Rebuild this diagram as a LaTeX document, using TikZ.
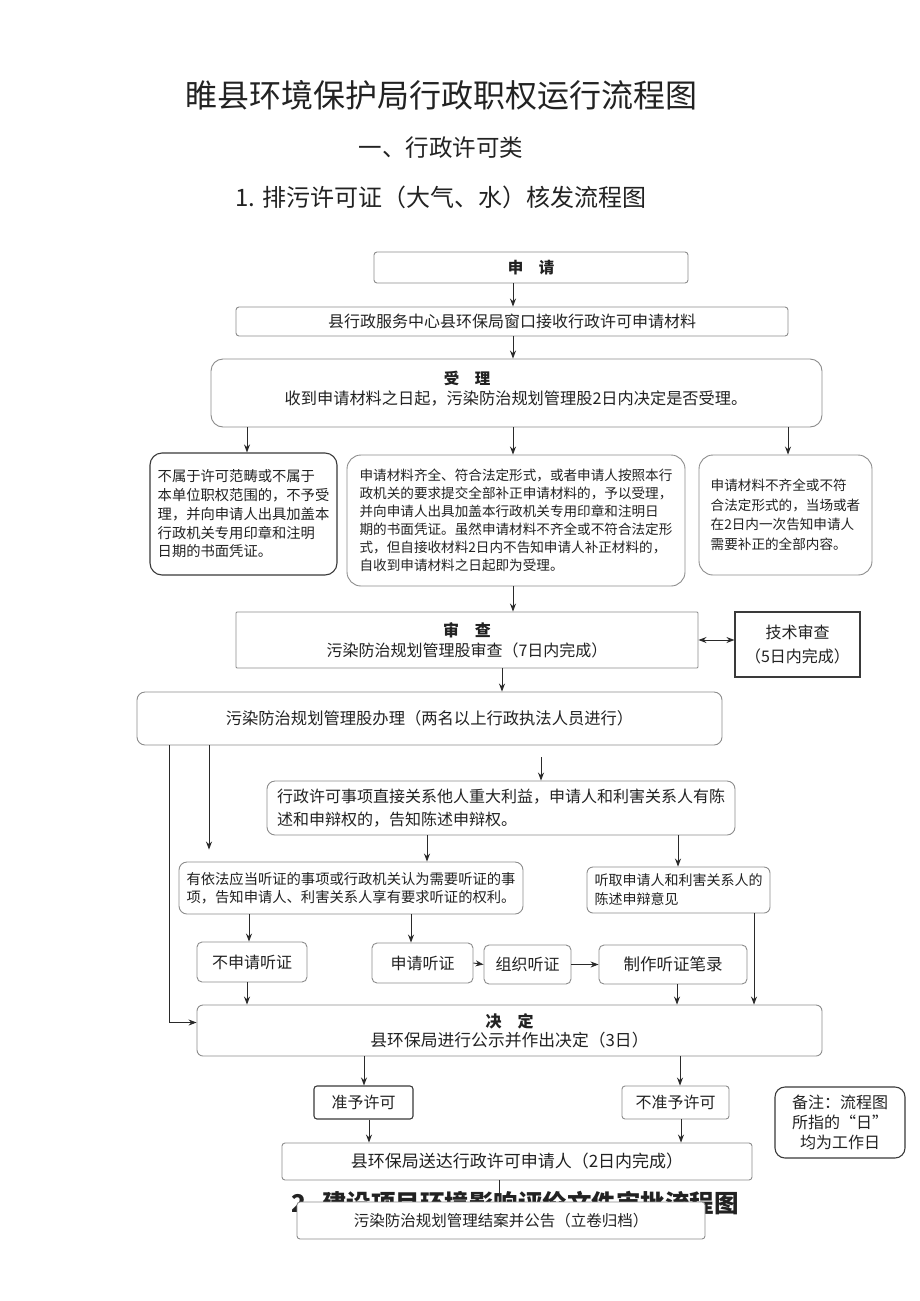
\documentclass[tikz,border=0pt]{standalone}
\usepackage{fontspec}
\setmainfont{Noto Sans CJK SC}
\usetikzlibrary{arrows.meta,calc}
\newcommand\myfs[2]{\fontsize{#1}{#2}\selectfont}
\definecolor{boxgrey}{HTML}{8C8C8C}
\definecolor{boxdark}{HTML}{3A3A3A}
\definecolor{linecol}{HTML}{2A2A2A}
\definecolor{txt}{HTML}{222222}
\tikzset{
  box/.style={draw=boxgrey, line width=0.9pt, rounded corners=#1, inner sep=0pt, align=center, text=txt, font=\myfs{15.5}{20}},
  box/.default=3pt,
  dbox/.style={box=#1, draw=boxdark, line width=1.1pt},
  dbox/.default=3pt,
  arr/.style={-{Stealth[length=8pt,width=6pt]}, line width=0.9pt, draw=linecol},
  ln/.style={line width=0.9pt, draw=linecol},
  head/.style={inner sep=0pt, text=txt}
}
\begin{document}
\begin{tikzpicture}[x=1pt,y=-1pt]
\useasboundingbox (0,0) rectangle (920,1301);
\fill[white] (0,0) rectangle (920,1301);

% titles
\node[head, font=\myfs{32}{36}] (title) at (441.5,95) {睢县环境保护局行政职权运行流程图};
\node[head, font=\myfs{23.5}{26}] (sub1) at (441,148) {一、行政许可类};
\node[head, font=\myfs{24}{26}] (sub2) at (441,197) {1. 排污许可证（大气、水）核发流程图};

% coordinates for connector x positions
\coordinate (c169) at (169,0);
\coordinate (c209) at (209,0);
\coordinate (c249) at (249,0);
\coordinate (c247) at (247,0);
\coordinate (c411) at (411,0);
\coordinate (c427) at (427,0);
\coordinate (c499) at (499,0);
\coordinate (c502) at (502,0);
\coordinate (c513) at (513,0);
\coordinate (c678) at (678,0);
\coordinate (c677) at (677,0);
\coordinate (c754) at (754,0);
\coordinate (c788) at (788,0);
\coordinate (c369) at (369,0);
\coordinate (c681) at (681,0);
\coordinate (c364) at (364,0);
\coordinate (c680) at (680,0);
\coordinate (y1022) at (0,1022.5);
\coordinate (start541) at (541,757);

% nodes
\node[box, minimum width=314, minimum height=31] (sq) at (531,267.5) {\bfseries 申\quad 请};
\node[box, minimum width=552, minimum height=29, font=\myfs{16}{20}] (js) at (512,321.5) {县行政服务中心县环保局窗口接收行政许可申请材料};
\node[box=12pt, minimum width=611, minimum height=68] (sl) at (516.5,393) {};
\node[head, font=\myfs{15.5}{20}\bfseries] (slT) at (467,378) {受\quad 理};
\node[head, font=\myfs{16.2}{20}] (slL) at (516,398) {收到申请材料之日起，污染防治规划管理股2日内决定是否受理。};

\node[dbox=12pt, minimum width=187, minimum height=122, align=left, font=\myfs{14.3}{18.75}] (lb) at (243.5,514)
 {不属于许可范畴或不属于\\本单位职权范围的，不予受\\理，并向申请人出具加盖本\\行政机关专用印章和注明\\日期的书面凭证。};
\node[box=14pt, minimum width=338, minimum height=131, align=left, font=\myfs{13.6}{18}] (mb) at (516,520.5)
 {申请材料齐全、符合法定形式，或者申请人按照本行\\政机关的要求提交全部补正申请材料的，予以受理，\\并向申请人出具加盖本行政机关专用印章和注明日\\期的书面凭证。虽然申请材料不齐全或不符合法定形\\式，但自接收材料2日内不告知申请人补正材料的，\\自收到申请材料之日起即为受理。};
\node[box=14pt, minimum width=173, minimum height=120, align=left, font=\myfs{13.6}{19.5}] (rb) at (785.5,515)
 {申请材料不齐全或不符\\合法定形式的，当场或者\\在2日内一次告知申请人\\需要补正的全部内容。};

\node[box=1pt, minimum width=462, minimum height=56, font=\myfs{16}{20}] (sc) at (467,640)
 {\bfseries 审\quad 查\\污染防治规划管理股审查（7日内完成）};
\node[dbox=0pt, minimum width=125, minimum height=65, font=\myfs{16}{24}] (jsc) at (797.5,644.5)
 {技术审查\\（5日内完成）};

\node[box=8pt, minimum width=585, minimum height=53, font=\myfs{16.3}{20}] (bl) at (429.5,718.5)
 {污染防治规划管理股办理（两名以上行政执法人员进行）};

\node[box=8pt, minimum width=468, minimum height=54, align=left, font=\myfs{16}{23}] (xz) at (501,808)
 {行政许可事项直接关系他人重大利益，申请人和利害关系人有陈\\述和申辩权的，告知陈述申辩权。};

\node[box=8pt, minimum width=344, minimum height=52, align=left, font=\myfs{14.3}{18.5}] (yf) at (351,888)
 {有依法应当听证的事项或行政机关认为需要听证的事\\项，告知申请人、利害关系人享有要求听证的权利。};
\node[box=6pt, minimum width=183, minimum height=46, align=left, font=\myfs{14}{19}] (tq) at (678.5,890)
 {听取申请人和利害关系人的\\陈述申辩意见};

\node[box=5pt, minimum width=110, minimum height=40, font=\myfs{16}{20}] (bsq) at (252,962) {不申请听证};
\node[box=5pt, minimum width=101, minimum height=40, font=\myfs{16}{20}] (sqtz) at (422.5,963) {申请听证};
\node[box=5pt, minimum width=87, minimum height=39, font=\myfs{16}{20}] (zztz) at (527.5,964.5) {组织听证};
\node[box=5pt, minimum width=148, minimum height=39, font=\myfs{16.5}{20}] (zzbl) at (673,964.5) {制作听证笔录};

\node[box=6pt, minimum width=625, minimum height=51, font=\myfs{16.8}{19}] (jd) at (509.5,1030.5)
 {{\myfs{16}{19}\bfseries 决\quad 定}\\县环保局进行公示并作出决定（3日）};

\node[dbox=3pt, minimum width=99, minimum height=33, font=\myfs{16}{20}] (zy) at (363.5,1102.5) {准予许可};
\node[box=3pt, minimum width=107, minimum height=33, font=\myfs{16}{20}] (bz) at (675.5,1102.5) {不准予许可};
\node[dbox=10pt, minimum width=130, minimum height=71, font=\myfs{16}{20}] (bzh) at (840,1122.5)
 {备注：流程图\\所指的“日”\\均为工作日};

\node[box=3pt, minimum width=470, minimum height=37, font=\myfs{17}{20}] (sd) at (517,1161.5)
 {县环保局送达行政许可申请人（2日内完成）};

\node[head, font=\myfs{24.5}{28}\bfseries] (h2) at (515,1203) {2. 建设项目环境影响评价文件审批流程图};
\node[box=3pt, fill=white, minimum width=408, minimum height=37, font=\myfs{15.5}{20}] (lj) at (501,1220.5)
 {污染防治规划管理结案并公告（立卷归档）};

% connectors
\draw[arr] (sq.south -| c513) -- (js.north -| c513);
\draw[arr] (js.south -| c513) -- (sl.north -| c513);
\draw[arr] (sl.south -| c247) -- (lb.north -| c247);
\draw[arr] (sl.south -| c513) -- (mb.north -| c513);
\draw[arr] (sl.south -| c788) -- (rb.north -| c788);
\draw[arr] (mb.south -| c513) -- (sc.north -| c513);
\draw[{Stealth[length=8pt,width=6pt]}-{Stealth[length=8pt,width=6pt]}, line width=1pt, draw=linecol] (sc.east) -- (sc.east -| jsc.west);
\draw[arr] (sc.south -| c502) -- (bl.north -| c502);
\draw[arr] (bl.south -| c169) -- (y1022 -| c169) -- (y1022 -| jd.west);
\draw[arr, shorten >=12pt] (bl.south -| c209) -- (yf.north -| c209);
\draw[arr] (start541) -- (xz.north -| start541);
\draw[arr] (xz.south -| c427) -- (yf.north -| c427);
\draw[arr] (xz.south -| c678) -- (tq.north -| c678);
\draw[arr] (yf.south -| c249) -- (bsq.north -| c249);
\draw[arr] (yf.south -| c411) -- (sqtz.north -| c411);
\draw[arr] (sqtz.east) -- (zztz.west);
\draw[arr] (zztz.east) -- (zzbl.west);
\draw[arr] (bsq.south -| c247) -- (jd.north -| c247);
\draw[arr] (zzbl.south -| c677) -- (jd.north -| c677);
\draw[arr] (tq.south -| c754) -- (jd.north -| c754);
\draw[arr] (jd.south -| c364) -- (zy.north -| c364);
\draw[arr] (jd.south -| c680) -- (bz.north -| c680);
\draw[arr] (zy.south -| c369) -- (sd.north -| c369);
\draw[arr] (bz.south -| c681) -- (sd.north -| c681);
\draw[ln] (sd.south -| c499) -- (lj.north -| c499);
\end{tikzpicture}
\end{document}
